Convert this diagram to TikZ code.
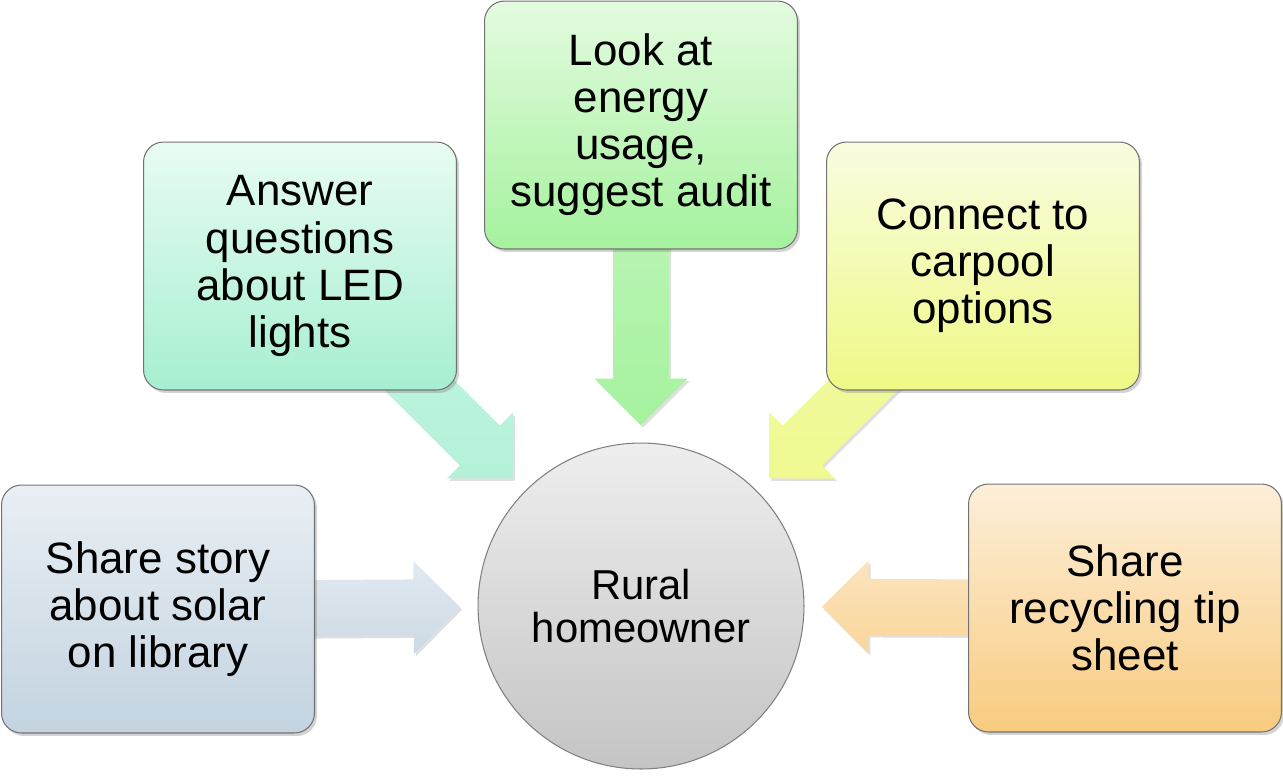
\documentclass[tikz,border=0pt]{standalone}
\usepackage{fontspec}
\setmainfont{Liberation Sans}
\usetikzlibrary{calc,shadows,backgrounds}

\definecolor{share_top}{HTML}{E9EFF4}
\definecolor{share_bot}{HTML}{C3D3E0}
\definecolor{answer_top}{HTML}{E8FCF2}
\definecolor{answer_bot}{HTML}{A6EFD1}
\definecolor{look_top}{HTML}{E3FBDF}
\definecolor{look_bot}{HTML}{A5F29E}
\definecolor{connect_top}{HTML}{FAFCE0}
\definecolor{connect_bot}{HTML}{EEF985}
\definecolor{recycle_top}{HTML}{FDEFD9}
\definecolor{recycle_bot}{HTML}{F8CB80}
\definecolor{home_top}{HTML}{EEEEEE}
\definecolor{home_bot}{HTML}{C4C4C4}

\tikzset{
  idea/.style={rectangle, rounded corners=0.4cm, draw=black!55, line width=0.6pt,
    minimum width=6.26cm, minimum height=4.96cm, align=center,
    font=\fontsize{25}{26.8}\selectfont,
    drop shadow={shadow xshift=0.05cm, shadow yshift=-0.06cm, opacity=0.35}},
  hub/.style={circle, draw=black!50, line width=0.6pt, minimum size=6.52cm,
    align=center, font=\fontsize{23.8}{25}\selectfont,
    top color=home_top, bottom color=home_bot},
  flow/.style={drop shadow={shadow xshift=0.04cm, shadow yshift=-0.05cm, opacity=0.25}}
}

% block arrow from a box to the hub: box, top colour, bottom colour
\newcommand{\blockarrow}[3]{%
  \coordinate (#1-tip) at ($(home.center)!3.62cm!(#1.center)$);
  \coordinate (#1-neck) at ($(#1-tip)!0.93cm!(#1.center)$);
  \shade[flow, top color=#2, bottom color=#3]
    ($(#1.center)!0.56cm!90:(#1-tip)$) -- ($(#1-neck)!0.56cm!90:(#1-tip)$)
    -- ($(#1-neck)!0.93cm!90:(#1-tip)$) -- (#1-tip)
    -- ($(#1-neck)!0.93cm!-90:(#1-tip)$) -- ($(#1-neck)!0.56cm!-90:(#1-tip)$)
    -- ($(#1.center)!0.56cm!-90:(#1-tip)$) -- cycle;
}

\begin{document}
\begin{tikzpicture}[x=0.02cm, y=-0.02cm]
   \useasboundingbox (0,0) rectangle (1283,775);
   % centre
   \node [hub] (home) at (641,606) {Rural\\homeowner};
   % boxes round it
   \node [idea, top color=share_top, bottom color=share_bot] (share) at (158,609)
      {Share story\\about solar\\on library};
   \node [idea, top color=answer_top, bottom color=answer_bot] (answer) at (300,266)
      {Answer\\questions\\about LED\\lights};
   \node [idea, top color=look_top, bottom color=look_bot] (look) at (641,125)
      {Look at\\energy\\usage,\\suggest audit};
   \node [idea, top color=connect_top, bottom color=connect_bot] (connect) at (983,266)
      {Connect to\\carpool\\options};
   \node [idea, top color=recycle_top, bottom color=recycle_bot] (recycle) at (1125,608)
      {Share\\recycling tip\\sheet};
   % arrows go behind the boxes
   \begin{scope}[on background layer]
      \blockarrow{share}{share_top!80!share_bot}{share_bot!85!white}
      \blockarrow{answer}{answer_top!45!answer_bot}{answer_bot!85!white}
      \blockarrow{look}{look_top!50!look_bot}{look_bot}
      \blockarrow{connect}{connect_top!40!connect_bot}{connect_bot!90!white}
      \blockarrow{recycle}{recycle_top!70!recycle_bot}{recycle_bot!80!white}
   \end{scope}
\end{tikzpicture}
\end{document}
